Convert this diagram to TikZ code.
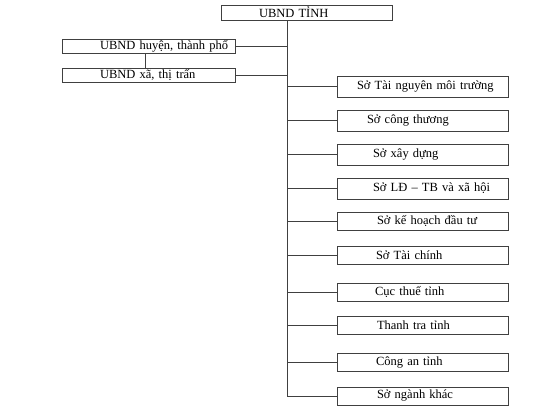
\documentclass[tikz,border=0pt]{standalone}
\usepackage{fontspec}
\setmainfont{Liberation Serif}
\begin{document}
\begin{tikzpicture}[x=1pt,y=1pt,
  box/.style={draw=black!75, line width=0.7pt, inner xsep=0pt, inner ysep=0pt,
    text width=#1, align=left, font=\fontsize{12.5}{13}\selectfont},
  link/.style={draw=black!75, line width=0.7pt}]
\useasboundingbox (0,0) rectangle (533,-417);
\coordinate (tk) at (287,0);
\coordinate (lk) at (145,0);
% top
\node[box=171pt, minimum height=15pt] (top) at (306.5,-12.5) {\hspace*{38pt}UBND TỈNH};
% left
\node[box=173pt, minimum height=14pt] (huyen) at (148.5,-46) {\hspace*{38pt}UBND huyện, thành phố};
\node[box=173pt, minimum height=14pt] (xa) at (148.5,-75) {\hspace*{38pt}UBND xã, thị trấn};
% right
\node[box=171pt, minimum height=21pt] (s1) at (422.5,-86.5) {\hspace*{20pt}Sở Tài nguyên môi trường};
\node[box=171pt, minimum height=21pt] (s2) at (422.5,-120.5) {\hspace*{30pt}Sở công thương};
\node[box=171pt, minimum height=21pt] (s3) at (422.5,-154.5) {\hspace*{36pt}Sở xây dựng};
\node[box=171pt, minimum height=21pt] (s4) at (422.5,-188.5) {\hspace*{36pt}Sở LĐ – TB và xã hội};
\node[box=171pt, minimum height=18pt] (s5) at (422.5,-221) {\hspace*{40pt}Sở kế hoạch đầu tư};
\node[box=171pt, minimum height=18pt] (s6) at (422.5,-255.5) {\hspace*{39pt}Sở Tài chính};
\node[box=171pt, minimum height=18pt] (s7) at (422.5,-292) {\hspace*{38pt}Cục thuế tỉnh};
\node[box=171pt, minimum height=18pt] (s8) at (422.5,-325) {\hspace*{40pt}Thanh tra tỉnh};
\node[box=171pt, minimum height=18pt] (s9) at (422.5,-362) {\hspace*{39pt}Công an tỉnh};
\node[box=171pt, minimum height=18pt] (s10) at (422.5,-396) {\hspace*{40pt}Sở ngành khác};
% connectors
\draw[link] (tk |- top.south) -- (tk |- s10.west) -- (s10.west);
\foreach \s in {s1,s2,s3,s4,s5,s6,s7,s8,s9}
  \draw[link] (tk |- \s.west) -- (\s.west);
\draw[link] (huyen.east) -- (huyen.east -| tk);
\draw[link] (xa.east) -- (xa.east -| tk);
\draw[link] (lk |- huyen.south) -- (lk |- xa.north);
\end{tikzpicture}
\end{document}
